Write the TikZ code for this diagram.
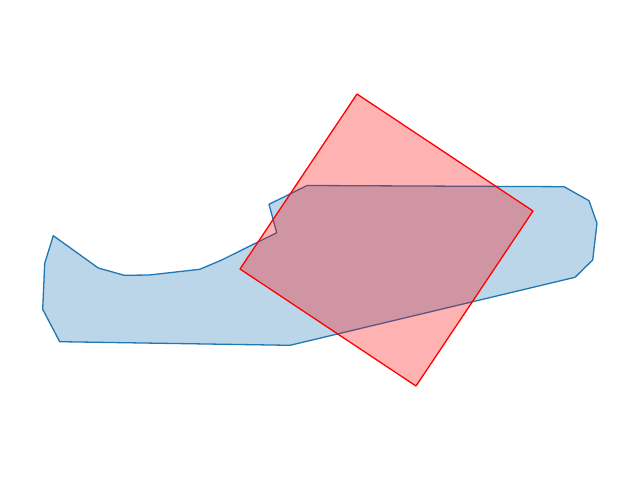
\documentclass[tikz,border=0pt]{standalone}
\usepackage{xcolor}
\definecolor{mplblue}{HTML}{1F77B4}
\begin{document}
\begin{tikzpicture}[x=1pt,y=-1pt,
  bluepoly/.style={draw=mplblue,fill=mplblue,fill opacity=0.3,line width=1.3pt,line join=round},
  redpoly/.style={draw=red,fill=red,fill opacity=0.3,line width=1.3pt,line join=round}]
\useasboundingbox (0,0) rectangle (640,480);
\path[bluepoly] (53.3,235.7) -- (98.3,268) -- (124.3,275.3) -- (149.3,275) -- (199.7,269.3) -- (221.7,260) -- (276.7,232.7) -- (269,204.3) -- (307,185.5) -- (564,186.7) -- (589,200.7) -- (597,223.3) -- (592.7,260) -- (575,277.3) -- (290,345.3) -- (59.7,341.7) -- (42.7,309.3) -- (44.7,263.3) -- cycle;
\path[redpoly] (357,94) -- (533,211) -- (416,386) -- (240,269) -- cycle;
\end{tikzpicture}
\end{document}
